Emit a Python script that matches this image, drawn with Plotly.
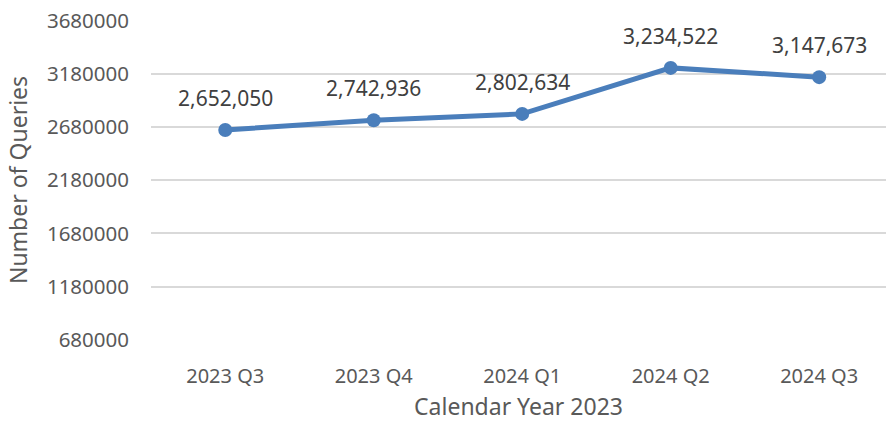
import plotly.graph_objects as go

quarters = ["2023 Q3", "2023 Q4", "2024 Q1", "2024 Q2", "2024 Q3"]
queries = [2652050, 2742936, 2802634, 3234522, 3147673]
y_ticks = [680000, 1180000, 1680000, 2180000, 2680000, 3180000, 3680000]

font_family = "Noto Sans, Open Sans, sans-serif"
text_color = "#595959"
line_color = "#4a7ebb"

fig = go.Figure()
fig.add_trace(go.Scatter(
    x=quarters,
    y=queries,
    mode="lines+markers",
    line=dict(color=line_color, width=5),
    marker=dict(color=line_color, size=14),
    showlegend=False,
    cliponaxis=False,
))

for q, v in zip(quarters, queries):
    fig.add_annotation(
        x=q, y=v, text=f"{v:,}", showarrow=False, yshift=32,
        font=dict(family=font_family, size=21, color="#404040"),
    )

fig.update_layout(
    width=886, height=422,
    margin=dict(l=151, r=0, t=20, b=82),
    paper_bgcolor="white",
    plot_bgcolor="white",
    font=dict(family=font_family, size=20, color=text_color),
)
fig.update_xaxes(
    type="category",
    range=[-0.5, 4.45],
    automargin=False,
    showgrid=False,
    showline=False,
    ticks="",
    ticklabelstandoff=22,
    title=dict(text="Calendar Year 2023", font=dict(size=23, color=text_color), standoff=24),
)
fig.update_yaxes(
    range=[680000, 3684000],
    automargin=False,
    tickvals=y_ticks,
    ticktext=[str(t) for t in y_ticks],
    tickfont=dict(size=20.5),
    ticklabeloverflow="allow",
    showgrid=True,
    gridcolor="#d9d9d9",
    gridwidth=1.5,
    zeroline=False,
    showline=False,
    ticks="",
    ticklabelstandoff=21,
    title=dict(text="Number of Queries", font=dict(size=23, color=text_color), standoff=12),
)

# drop the page's default body margin so the figure fills the window exactly
fig.write_html(
    "out.html",
    config={"displayModeBar": False},
    post_script="document.body.style.margin = '0';",
)
